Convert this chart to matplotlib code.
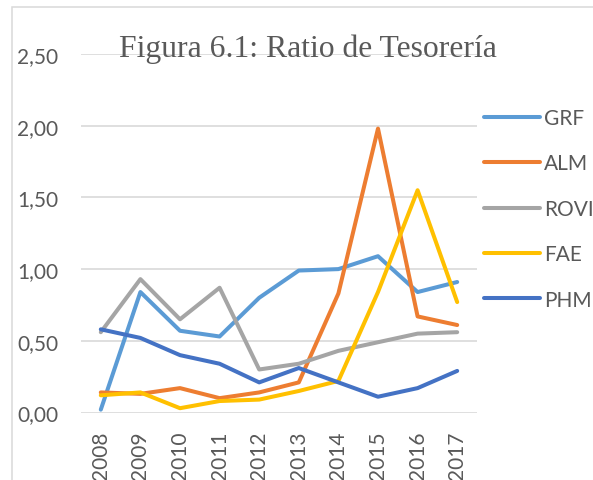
import matplotlib
matplotlib.use("Agg")
import matplotlib.pyplot as plt
from matplotlib.patches import Rectangle

years = ["2008", "2009", "2010", "2011", "2012", "2013", "2014", "2015", "2016", "2017"]
grf = [0.02, 0.84, 0.57, 0.53, 0.80, 0.99, 1.00, 1.09, 0.84, 0.91]
alm = [0.14, 0.13, 0.17, 0.10, 0.14, 0.21, 0.83, 1.98, 0.67, 0.61]
rovi = [0.56, 0.93, 0.65, 0.87, 0.30, 0.34, 0.43, 0.49, 0.55, 0.56]
fae = [0.12, 0.14, 0.03, 0.08, 0.09, 0.15, 0.22, 0.84, 1.55, 0.77]
phm = [0.58, 0.52, 0.40, 0.34, 0.21, 0.31, 0.21, 0.11, 0.17, 0.29]
yticks = [0.0, 0.5, 1.0, 1.5, 2.0, 2.5]

series = [("GRF", grf, "#5B9BD5"), ("ALM", alm, "#ED7D31"), ("ROVI", rovi, "#A5A5A5"),
          ("FAE", fae, "#FFC000"), ("PHM", phm, "#4472C4")]

W, H = 593, 481
fig = plt.figure(figsize=(W / 100, H / 100), dpi=100)
ax = fig.add_axes([81 / W, (H - 413.5) / H, (477 - 81) / W, (413.5 - 55) / H])

x = list(range(len(years)))
for name, vals, col in series:
    ax.plot(x, vals, color=col, lw=2.9, label=name,
            solid_capstyle="round", solid_joinstyle="round")

ax.set_xlim(-0.5, len(years) - 0.5)
ax.set_ylim(0, 2.5)
ax.set_yticks(yticks)
ax.set_yticklabels([f"{v:.2f}".replace(".", ",") for v in yticks])
ax.set_xticks(x)
ax.set_xticklabels(years, rotation=90)
ax.grid(axis="y", color="#d9d9d9", lw=1.2)
ax.set_axisbelow(True)
for s in ax.spines.values():
    s.set_visible(False)
ax.tick_params(length=0, labelsize=15, labelcolor="#595959")
ax.tick_params(axis="y", pad=16.5)
ax.tick_params(axis="x", pad=13)
for lbl in ax.get_xticklabels() + ax.get_yticklabels():
    lbl.set_family("Lato")

fig.text(307.5 / W, (H - 57) / H, "Figura 6.1: Ratio de Tesorería", ha="center", va="baseline",
         family="Liberation Serif", fontsize=22.8, color="#595959")

fig.legend(loc="upper left", bbox_to_anchor=(484 / W, (H - 109) / H), frameon=False,
           borderpad=0, borderaxespad=0, handlelength=2.7, handletextpad=0.2,
           labelspacing=1.22, prop={"family": "Lato", "size": 15}, labelcolor="#595959")

fig.add_artist(Rectangle((12 / W, -0.1), 2, (H - 7.5) / H + 0.1, transform=fig.transFigure,
                         fill=False, edgecolor="#d9d9d9", lw=1.1))

fig.savefig("out.png", dpi=100)
